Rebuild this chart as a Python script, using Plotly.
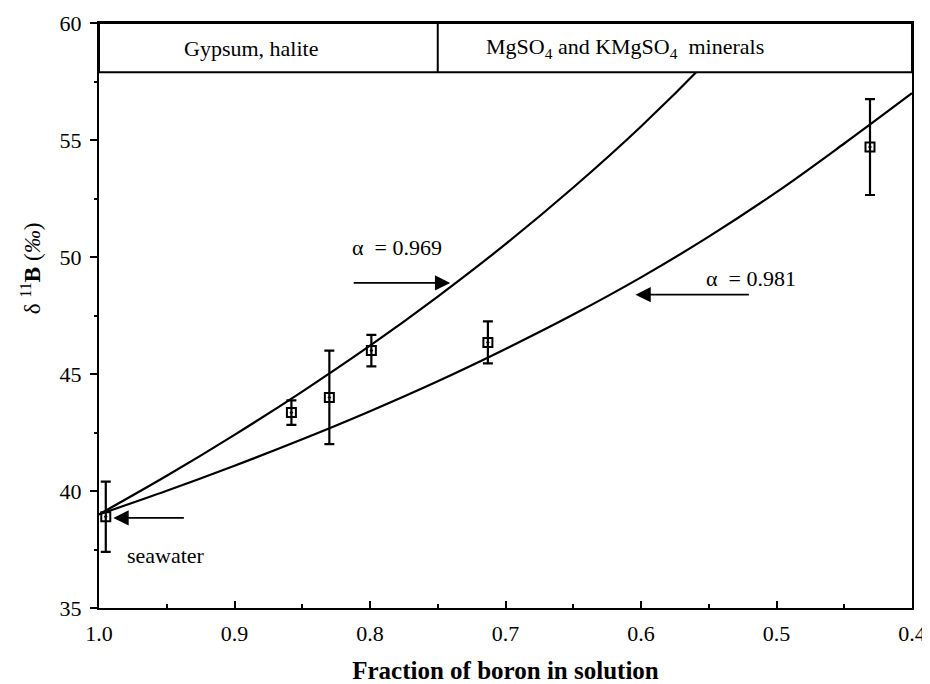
import plotly.graph_objects as go

# Measured data (fraction of boron remaining in solution, d11B, 1-sigma error)
frac = [0.995, 0.858, 0.830, 0.799, 0.713, 0.431]
d11b = [38.9, 43.35, 44.0, 46.0, 46.35, 54.7]
err = [1.5, 0.52, 2.0, 0.67, 0.9, 2.05]

# Rayleigh fractionation curves
curve_f = [1.0, 0.95, 0.9, 0.85, 0.8, 0.75, 0.7, 0.65, 0.6, 0.55, 0.5, 0.45, 0.4]
curve_969 = [39.0, 40.65, 42.40, 44.25, 46.21, 48.31, 50.55, 52.97, 55.58, 58.44, 61.57, 65.04, 68.94]
curve_981 = [39.0, 40.01, 41.08, 42.21, 43.41, 44.69, 46.07, 47.54, 49.13, 50.87, 52.77, 54.85, 57.0]

x_ticks = [1.0, 0.9, 0.8, 0.7, 0.6, 0.5, 0.4]
y_ticks = [35, 40, 45, 50, 55, 60]

FONT = "Liberation Serif"

fig = go.Figure()
fig.add_trace(go.Scatter(x=curve_f, y=curve_969, mode="lines", line=dict(color="black", width=2.2, shape="spline"),
                         showlegend=False, hoverinfo="skip"))
fig.add_trace(go.Scatter(x=curve_f, y=curve_981, mode="lines", line=dict(color="black", width=2.2, shape="spline"),
                         showlegend=False, hoverinfo="skip"))
fig.add_trace(go.Scatter(
    x=frac, y=d11b, mode="markers",
    marker=dict(symbol="square-open-dot", size=9, color="black", line=dict(color="black", width=2)),
    error_y=dict(type="data", array=err, visible=True, color="black", thickness=2.2, width=5),
    showlegend=False))

# header band
fig.add_shape(type="rect", xref="paper", yref="y", x0=0, x1=1, y0=57.9, y1=60,
              fillcolor="white", line=dict(color="black", width=2), layer="above")
fig.add_shape(type="line", xref="x", yref="y", x0=0.75, x1=0.75, y0=57.9, y1=60,
              line=dict(color="black", width=2), layer="above")

ann_font = dict(family=FONT, size=22, color="black")
fig.add_annotation(x=0.888, y=58.92, text="Gypsum, halite", showarrow=False, font=ann_font)
fig.add_annotation(x=0.612, y=58.95, text="MgSO<sub>4</sub> and KMgSO<sub>4</sub>  minerals",
                   showarrow=False, font=ann_font)

fig.add_annotation(x=0.780, y=50.41, text="α  = 0.969", showarrow=False, font=ann_font)
fig.add_annotation(x=0.519, y=49.08, text="α  = 0.981", showarrow=False, font=ann_font)
fig.add_annotation(x=0.9505, y=37.24, text="seawater", showarrow=False, font=ann_font)

arrow_style = dict(showarrow=True, arrowhead=2, arrowsize=1.7, arrowwidth=1.8, arrowcolor="black", text="")
fig.add_annotation(x=0.7408, y=48.89, ax=-98, ay=0, **arrow_style)
fig.add_annotation(x=0.6041, y=48.39, ax=115, ay=0, **arrow_style)
fig.add_annotation(x=0.9894, y=38.85, ax=72, ay=0, **arrow_style)

# y-axis title as rotated annotation
fig.add_annotation(xref="paper", yref="paper", x=-0.083, y=0.58, xanchor="center", yanchor="middle",
                   text="δ <sup>11</sup><b>B</b> (<i>‰</i>)", textangle=-90, showarrow=False,
                   font=dict(family=FONT, size=23, color="black"))

fig.update_xaxes(
    range=[1.0, 0.4], tickvals=x_ticks, tickformat=".1f",
    showline=True, linecolor="black", linewidth=2, mirror=True,
    ticks="inside", ticklen=7, tickwidth=2, tickcolor="black",
    minor=dict(dtick=0.05, ticks="inside", ticklen=4, tickwidth=2, tickcolor="black"),
    showgrid=False, zeroline=False, ticklabelstandoff=5,
    tickfont=dict(family=FONT, size=22, color="black"),
    title=dict(text="<b>Fraction of boron in solution</b>", font=dict(family=FONT, size=25, color="black"),
               standoff=16),
)
fig.update_yaxes(
    range=[35, 60], tickvals=y_ticks,
    showline=True, linecolor="black", linewidth=2, mirror=True,
    ticks="outside", ticklen=7, tickwidth=2, tickcolor="black",
    minor=dict(dtick=2.5, ticks="outside", ticklen=3, tickwidth=2, tickcolor="black"),
    showgrid=False, zeroline=False, ticklabelstandoff=4,
    tickfont=dict(family=FONT, size=22, color="black"),
)

# the page body has an 8px margin, so the figure is offset by 8px right and down
fig.update_layout(
    width=922, height=676,
    margin=dict(l=91, r=18, t=15, b=76, autoexpand=False),
    paper_bgcolor="white", plot_bgcolor="white",
    font=dict(family=FONT, color="black"),
)

fig.write_html("out.html")
